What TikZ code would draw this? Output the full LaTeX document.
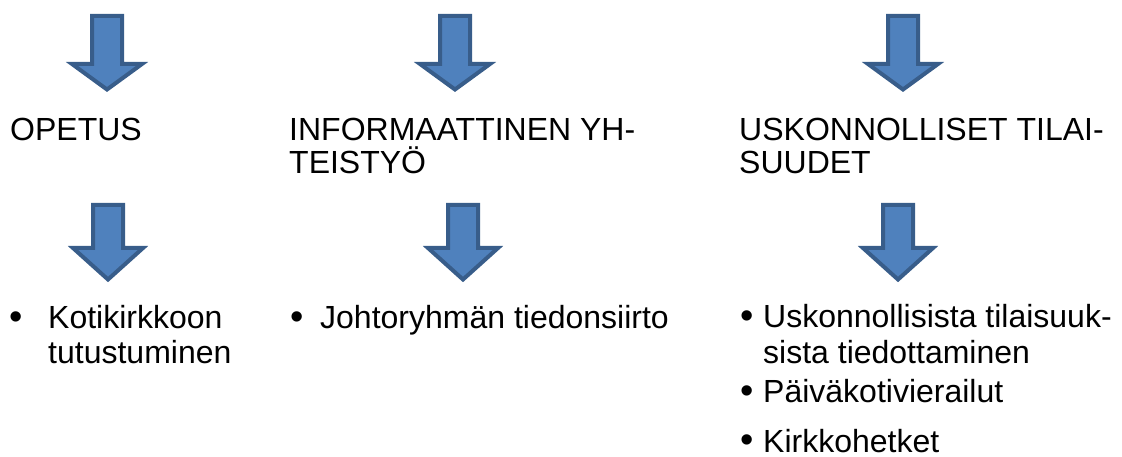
\documentclass[tikz,border=0pt]{standalone}
\usepackage{fontspec}
\setmainfont{Liberation Sans}
\definecolor{arrowfill}{HTML}{4F81BD}
\definecolor{arrowline}{HTML}{385D8A}
\newcommand\blkarrow[4]{%
  \draw[blockarrow] ({#1-15},#2) -- ({#1+15},#2) -- ({#1+15},#3) -- ({#1+35},#3)
    -- (#1,#4) -- ({#1-35},#3) -- ({#1-15},#3) -- cycle;}
\begin{document}
\begin{tikzpicture}[x=1pt,y=-1pt,
  blockarrow/.style={fill=arrowfill, draw=arrowline, line width=4pt, line join=miter},
  lbl/.style={font=\fontsize{32}{33}\selectfont, inner sep=0pt, anchor=base west, align=left},
  bul/.style={font=\fontsize{38}{38}\selectfont, inner sep=0pt, text depth=0pt, text height=20pt, anchor=base}]
\clip (0,0) rectangle (1122,457);
\useasboundingbox (0,0) rectangle (1122,457);
% top arrows
\blkarrow{107}{16}{64}{89.5}
\blkarrow{455}{16}{64}{89.5}
\blkarrow{903}{16}{64}{89.5}
% headings (base anchor = last line)
\node[lbl] (opetus) at (10,141) {OPETUS};
\node[lbl] (info) at (289,174) {INFORMAATTINEN YH-\\TEISTYÖ};
\node[lbl] (usk) at (739,174) {USKONNOLLISET TILAI-\\SUUDET};
% bottom arrows
\blkarrow{108}{205}{248}{279.5}
\blkarrow{463}{205}{248}{279.5}
\blkarrow{898}{205}{248}{279.5}
% bullets column 1
\node[bul] (b1) at (16,329) {•};
\node[lbl] (t1) at (48,363) {Kotikirkkoon\\[2pt]tutustuminen};
% column 2
\node[bul] (b2) at (297,329) {•};
\node[lbl] (t2) at (320,328) {Johtoryhmän tiedonsiirto};
% column 3
\node[bul] (b3) at (747,328) {•};
\node[lbl] (t3) at (763,363) {Uskonnollisista tilaisuuk-\\[3pt]sista tiedottaminen};
\node[bul] (b4) at (747,403) {•};
\node[lbl] (t4) at (763,402) {Päiväkotivierailut};
\node[bul] (b5) at (747,452) {•};
\node[lbl] (t5) at (763,452) {Kirkkohetket};
\end{tikzpicture}
\end{document}
